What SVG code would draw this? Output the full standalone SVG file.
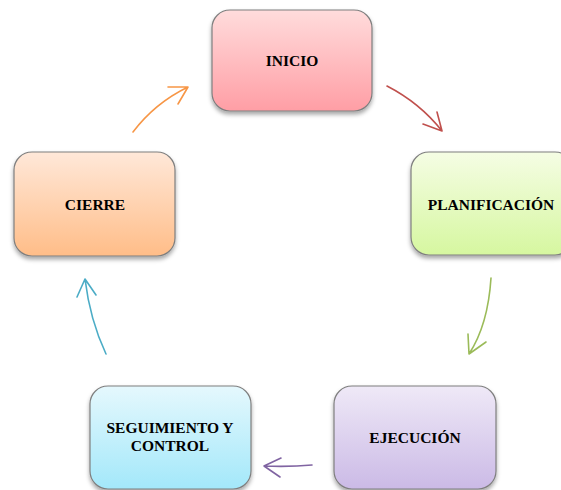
<svg xmlns="http://www.w3.org/2000/svg" width="561" height="490" viewBox="0 0 561 490">
<defs>
<linearGradient id="gR" x1="0" y1="0" x2="0" y2="1"><stop offset="0" stop-color="#ffdcdc"/><stop offset="1" stop-color="#ff9ea5"/></linearGradient>
<linearGradient id="gG" x1="0" y1="0" x2="0" y2="1"><stop offset="0" stop-color="#f5fde4"/><stop offset="1" stop-color="#d6f7a0"/></linearGradient>
<linearGradient id="gO" x1="0" y1="0" x2="0" y2="1"><stop offset="0" stop-color="#ffe8d9"/><stop offset="1" stop-color="#ffbd88"/></linearGradient>
<linearGradient id="gB" x1="0" y1="0" x2="0" y2="1"><stop offset="0" stop-color="#e5f8fd"/><stop offset="1" stop-color="#a3e8fa"/></linearGradient>
<linearGradient id="gP" x1="0" y1="0" x2="0" y2="1"><stop offset="0" stop-color="#efe9f7"/><stop offset="1" stop-color="#cbbae6"/></linearGradient>
<filter id="sh" x="-10%" y="-10%" width="120%" height="130%"><feDropShadow dx="0" dy="3" stdDeviation="2" flood-color="#000" flood-opacity="0.35"/></filter>
</defs>
<style>
.box{stroke:#7f7f7f;stroke-width:1.2;filter:url(#sh)}
.t{font-family:"Liberation Serif","Times New Roman",serif;font-weight:bold;font-size:15.5px;fill:#000;text-anchor:middle}
.c{fill:none;stroke-width:1.6;stroke-linecap:round;stroke-linejoin:round}
</style>
<g id="inicio"><rect class="box" x="212" y="10" width="160" height="101" rx="18" fill="url(#gR)"/><text class="t" x="292" y="66">INICIO</text></g>
<g id="planificacion"><rect class="box" x="411" y="152" width="162" height="103" rx="18" fill="url(#gG)"/><text class="t" x="491" y="210">PLANIFICACIÓN</text></g>
<g id="ejecucion"><rect class="box" x="334" y="386" width="162" height="103" rx="18" fill="url(#gP)"/><text class="t" x="415" y="443">EJECUCIÓN</text></g>
<g id="seguimiento"><rect class="box" x="90" y="386" width="161" height="103" rx="18" fill="url(#gB)"/><text class="t" x="170" y="433">SEGUIMIENTO Y</text><text class="t" x="170" y="451">CONTROL</text></g>
<g id="cierre"><rect class="box" x="14" y="152" width="161" height="104" rx="18" fill="url(#gO)"/><text class="t" x="95" y="210">CIERRE</text></g>
<g id="connectors">
<path class="c" stroke="#c0504d" d="M387,86 Q420,103 442,131 M423,124 L442,131 L437,112"/>
<path class="c" stroke="#9bbb59" d="M491,278 Q488,325 469,354 M468,334 L469,354 L486,342"/>
<path class="c" stroke="#8064a2" d="M312,465 Q290,467 264,466 M281,458 L264,466 L280,477"/>
<path class="c" stroke="#4bacc6" d="M106,354 Q90,320 85,279 M77,297 L85,279 L96,295"/>
<path class="c" stroke="#f79646" d="M133,132 Q155,103 188,87 M168,87 L188,87 L178,104"/>
</g>
</svg>
